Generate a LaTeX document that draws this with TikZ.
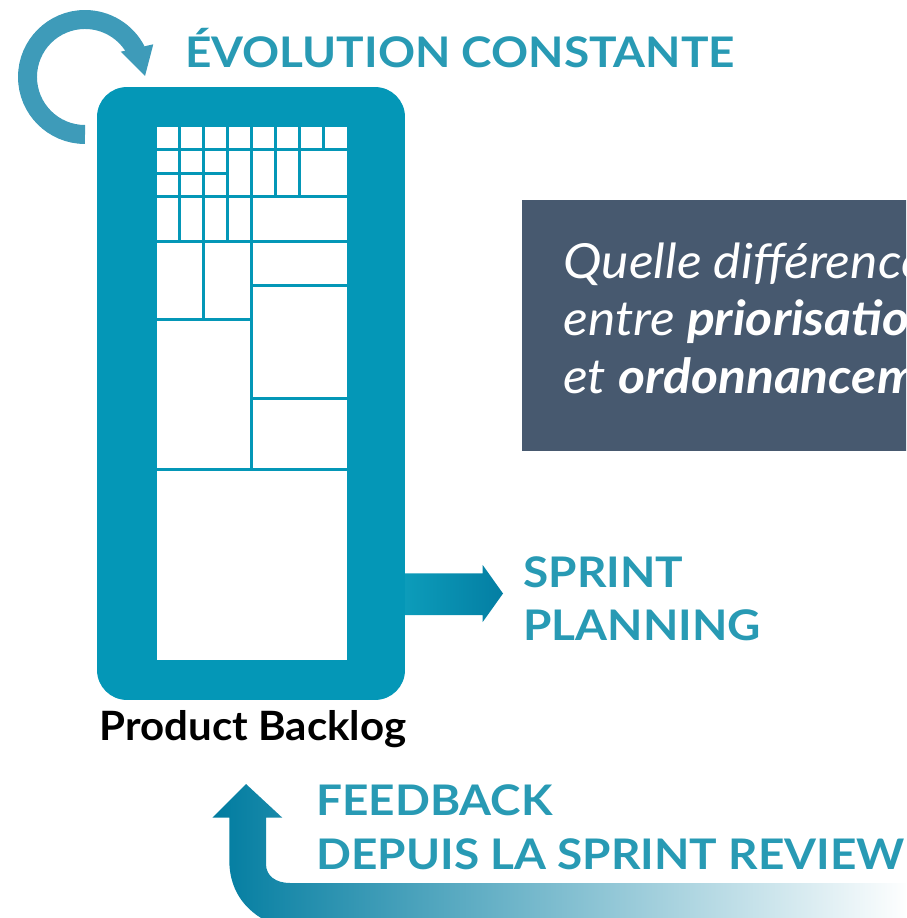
\documentclass[tikz,border=0pt]{standalone}
\usepackage{fontspec}
\setmainfont{Lato}
\usetikzlibrary{positioning}
\definecolor{backlogteal}{RGB}{4,151,183}
\definecolor{loopteal}{RGB}{62,155,185}
\definecolor{headteal}{RGB}{40,154,180}
\definecolor{sprintleft}{RGB}{12,156,186}
\definecolor{sprintright}{RGB}{4,126,163}
\definecolor{feeddark}{RGB}{0,124,160}
\definecolor{feedmid}{RGB}{70,172,196}
\definecolor{questgrey}{RGB}{71,89,111}

\begin{document}
\begin{tikzpicture}[
        x=0.02cm, y=-0.02cm,
        heading/.style={
            text=headteal,
            font=\fontsize{24}{28}\selectfont\bfseries\addfontfeatures{FakeStretch=1.09},
            anchor=base west,
            inner sep=0pt
        },
        question/.style={
            text=white,
            font=\fontsize{27.5}{31}\selectfont\itshape\addfontfeatures{FakeStretch=1.07},
            anchor=base west,
            inner sep=0pt
        },
        backlog/.style={
            fill=backlogteal,
            rounded corners=17pt,
            minimum width=6.16cm,
            minimum height=12.26cm,
            inner sep=0pt
        },
        cellline/.style={
            draw=backlogteal,
            line width=1.6pt
        }
    ]
    \useasboundingbox (0,0) rectangle (906,918);
    \clip (0,0) rectangle (906,918);

    % backlog column
    \node[backlog] (backlog) at (251,393.5) {};
    \fill[white] (157,127) rectangle (347,660);

    % items of the backlog
    \draw[cellline] (157,149.3) -- (347,149.3);
    \draw[cellline] (157,173.3) -- (227.8,173.3);
    \draw[cellline] (157,196.3) -- (347,196.3);
    \draw[cellline] (157,241.3) -- (347,241.3);
    \draw[cellline] (251.8,285.5) -- (347,285.5);
    \draw[cellline] (157,319.6) -- (251.8,319.6);
    \draw[cellline] (251.8,398.7) -- (347,398.7);
    \draw[cellline] (157,469.7) -- (347,469.7);
    \draw[cellline] (323.8,127) -- (323.8,149.3);
    \foreach \x in {275.8,299.8}
        \draw[cellline] (\x,127) -- (\x,196.3);
    \foreach \x in {179.7,227.8}
        \draw[cellline] (\x,127) -- (\x,241.3);
    \draw[cellline] (203.8,127) -- (203.8,319.6);
    \draw[cellline] (251.8,127) -- (251.8,469.7);

    \node[font=\fontsize{23}{27}\selectfont\bfseries\addfontfeatures{FakeStretch=1.04},
        anchor=base, inner sep=0pt] (backlogname) at (253,740) {Product Backlog};

    % constant evolution loop
    \draw[loopteal, line width=10.8pt] (85,134.5) arc[start angle=90, end angle=333, radius=57.5];
    \fill[loopteal] (120.7,51.7) -- (153.3,44.3) -- (145,76) -- cycle;
    \node[heading] (evolution) at (185,68) {ÉVOLUTION CONSTANTE};

    % question box
    \fill[questgrey] (522,200) rectangle (920,451);
    \node[question] (q1) at (563,279) {Quelle différence};
    \node[question] (q2) at (563,336) {entre \textbf{priorisation}};
    \node[question] (q3) at (563,393) {et \textbf{ordonnancement}};

    % sprint planning
    \shade[left color=sprintleft, right color=sprintright]
        (405,573.3) -- (482.7,573.3) -- (482.7,565) -- (503,593.5)
        -- (482.7,622) -- (482.7,615) -- (405,615) -- cycle;
    \node[heading] (sprint) at (523,587) {SPRINT};
    \node[heading] (planning) at (523,640) {PLANNING};

    % feedback from the review
    \shade[left color=feeddark, middle color=feedmid, right color=white]
        (246,784) -- (282.3,817.7) -- (266,817.7) -- (266,864)
        .. controls (266,876) and (276,883) .. (290,883) -- (910,883)
        -- (910,925) -- (275,925)
        .. controls (250,915) and (229.3,895) .. (229.3,860)
        -- (229.3,817.7) -- (212.3,817.7) -- cycle;
    \node[heading] (feedback) at (316,815) {FEEDBACK};
    \node[heading] (review) at (316,869) {DEPUIS LA SPRINT REVIEW};

\end{tikzpicture}
\end{document}
